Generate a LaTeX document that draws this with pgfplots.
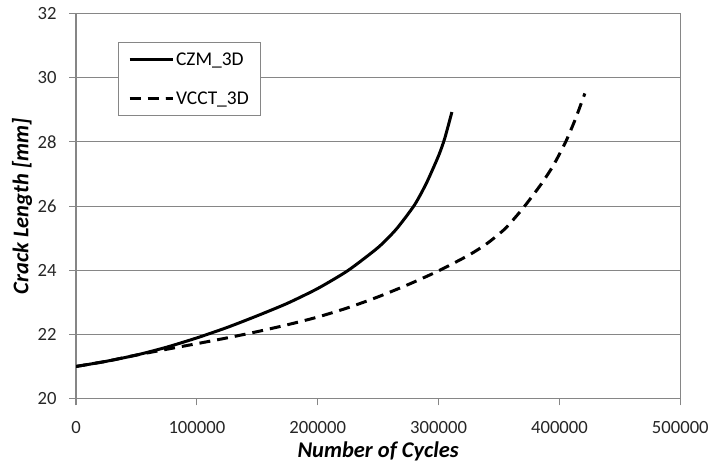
\documentclass[border=0pt]{standalone}
\usepackage{pgfplots}
\pgfplotsset{compat=1.18}
\usepackage{fontspec}
\setmainfont{Carlito}
\definecolor{gridgray}{RGB}{134,134,134}
\begin{document}
\begin{tikzpicture}
\begin{axis}[
  scale only axis,
  width=606pt, height=386pt,
  xmin=0, xmax=500000, ymin=20, ymax=32,
  xtick={0,100000,...,500000},
  ytick={20,22,...,32},
  scaled x ticks=false,
  /pgf/number format/assume math mode=true,
  xticklabel style={/pgf/number format/fixed,/pgf/number format/1000 sep={}, yshift=-12pt},
  yticklabel style={xshift=-9pt, inner ysep=7.5pt},
  tick label style={font=\fontsize{18.7}{20}\selectfont, text=black!85},
  ymajorgrids,
  grid style={gridgray, line width=1.1pt},
  axis line style={gridgray, line width=1.1pt},
  tick style={gridgray, line width=1.1pt},
  tick align=outside,
  major tick length=7pt,
  xtick pos=bottom, ytick pos=left,
  xlabel={\textbf{\textit{Number of Cycles}}},
  ylabel={\textbf{\textit{Crack Length [mm]}}},
  label style={font=\fontsize{22.5}{24}\selectfont},
  xlabel style={inner ysep=4pt, yshift=-1pt},
  ylabel style={inner ysep=12pt, yshift=-10pt},
  legend style={at={(0.069,0.926)}, anchor=north west, draw=gridgray,
    line width=1.1pt, font=\fontsize{19.5}{21}\selectfont,
    inner xsep=10pt, inner ysep=8pt, row sep=21pt, cells={anchor=west}},
  legend image code/.code={\draw[#1] plot coordinates {(0pt,0pt) (43pt,0pt)};},
]
% CZM_3D crack growth
\addplot[black, line width=3pt, smooth, tension=0.4] coordinates {
  (0,21.0) (25000,21.16) (50000,21.355) (75000,21.6) (100000,21.89)
  (125000,22.215) (150000,22.58) (175000,22.97) (200000,23.43)
  (225000,23.99) (250000,24.71) (265000,25.28) (280000,26.03)
  (290000,26.72) (300000,27.57) (305000,28.1) (311000,28.93)
};
\addlegendentry{CZM\_3D}
% VCCT_3D crack growth
\addplot[black, line width=3pt, smooth, tension=0.4, dash pattern=on 11pt off 7pt] coordinates {
  (0,21.0) (25000,21.16) (50000,21.355) (75000,21.535) (100000,21.71)
  (125000,21.89) (150000,22.085) (175000,22.3) (200000,22.54)
  (225000,22.83) (250000,23.17) (275000,23.555) (300000,23.98)
  (325000,24.47) (340000,24.83) (355000,25.295) (370000,25.94)
  (385000,26.69) (395000,27.27) (405000,27.99) (413000,28.695)
  (421000,29.51)
};
\addlegendentry{VCCT\_3D}
\end{axis}
\end{tikzpicture}
\end{document}
